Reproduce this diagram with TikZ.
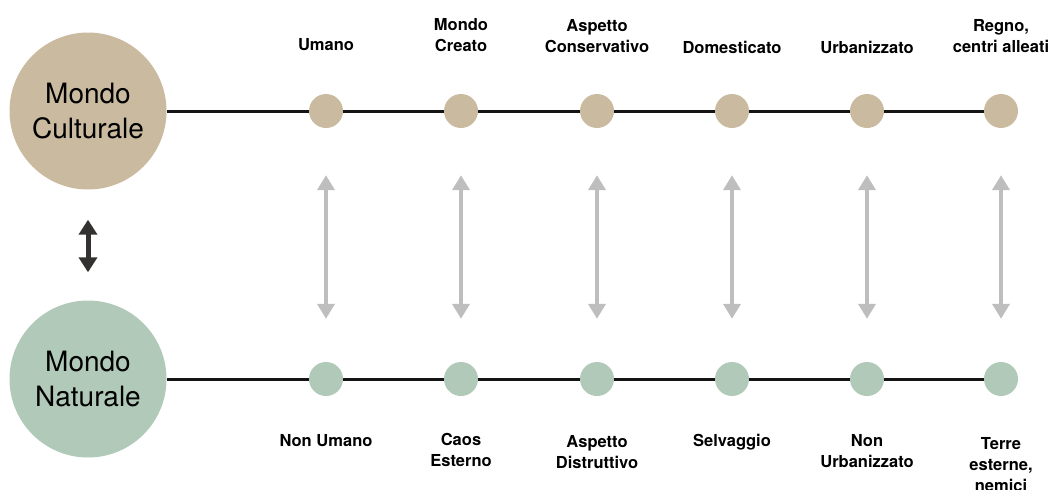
\documentclass[tikz,border=0pt]{standalone}
\usepackage{fontspec}
\setmainfont{TeX Gyre Heros}
\usetikzlibrary{arrows.meta}

\definecolor{cultcol}{RGB}{202,187,160}
\definecolor{natcol}{RGB}{177,201,184}
\definecolor{pairgray}{RGB}{190,190,190}
\definecolor{swapdark}{RGB}{52,50,48}

\begin{document}
\begin{tikzpicture}[x=1pt, y=-1pt,
                    world/.style={circle, inner sep=0pt, minimum size=157pt, align=center,
                                  font=\fontsize{28}{35}\selectfont},
                    dot_c/.style={circle, fill=cultcol, inner sep=0pt, minimum size=34pt},
                    dot_n/.style={circle, fill=natcol, inner sep=0pt, minimum size=34pt},
                    toplabel/.style={anchor=south, inner sep=0pt, align=center,
                                     font=\fontsize{16.5}{21}\selectfont\bfseries},
                    botlabel/.style={anchor=north, inner sep=0pt, align=center,
                                     font=\fontsize{16.5}{21}\selectfont\bfseries},
                    axis/.style={line width=3pt, black!92},
                    pair/.style={{Triangle[length=15pt,width=17pt]}-{Triangle[length=15pt,width=17pt]},
                                 line width=4pt, pairgray, shorten <=47pt, shorten >=43pt},
                    swap/.style={{Triangle[length=15pt,width=18pt]}-{Triangle[length=15pt,width=18pt]},
                                 line width=5pt, swapdark, shorten <=30pt, shorten >=28pt}]

            \useasboundingbox (0,0) rectangle (1055,490);

            \node[world, fill=cultcol] (cult) at (88,111) {Mondo\\Culturale};
            \node[world, fill=natcol]  (nat)  at (88,379) {Mondo\\Naturale};

            \node[dot_c] (c0) at (326,111) {};
            \node[dot_c] (c1) at (461,111) {};
            \node[dot_c] (c2) at (597,111) {};
            \node[dot_c] (c3) at (732,111) {};
            \node[dot_c] (c4) at (867,111) {};
            \node[dot_c] (c5) at (1001,111) {};

            \node[dot_n] (n0) at (326,379) {};
            \node[dot_n] (n1) at (461,379) {};
            \node[dot_n] (n2) at (597,379) {};
            \node[dot_n] (n3) at (732,379) {};
            \node[dot_n] (n4) at (867,379) {};
            \node[dot_n] (n5) at (1001,379) {};

            \draw[axis] (cult) -- (c0);
            \draw[axis] (c0) -- (c1);
            \draw[axis] (c1) -- (c2);
            \draw[axis] (c2) -- (c3);
            \draw[axis] (c3) -- (c4);
            \draw[axis] (c4) -- (c5);

            \draw[axis] (nat) -- (n0);
            \draw[axis] (n0) -- (n1);
            \draw[axis] (n1) -- (n2);
            \draw[axis] (n2) -- (n3);
            \draw[axis] (n3) -- (n4);
            \draw[axis] (n4) -- (n5);

            \draw[swap] (cult) -- (nat);

            \draw[pair] (c0) -- (n0);
            \draw[pair] (c1) -- (n1);
            \draw[pair] (c2) -- (n2);
            \draw[pair] (c3) -- (n3);
            \draw[pair] (c4) -- (n4);
            \draw[pair] (c5) -- (n5);

            \node[toplabel] (t0) at (326,51)  {Umano};
            \node[toplabel] (t1) at (461,52)  {Mondo\\Creato};
            \node[toplabel] (t2) at (597,53)  {Aspetto\\Conservativo};
            \node[toplabel] (t3) at (732,54)  {Domesticato};
            \node[toplabel] (t4) at (867,54)  {Urbanizzato};
            \node[toplabel] (t5) at (1001,53) {Regno,\\centri alleati};

            \node[botlabel] (b0) at (326,434)  {Non Umano};
            \node[botlabel] (b1) at (461,433)  {Caos\\Esterno};
            \node[botlabel] (b2) at (597,435)  {Aspetto\\Distruttivo};
            \node[botlabel] (b3) at (732,434)  {Selvaggio};
            \node[botlabel] (b4) at (867,434)  {Non\\Urbanizzato};
            \node[botlabel] (b5) at (1001,437) {Terre\\esterne,\\nemici};
        \end{tikzpicture}
\end{document}
